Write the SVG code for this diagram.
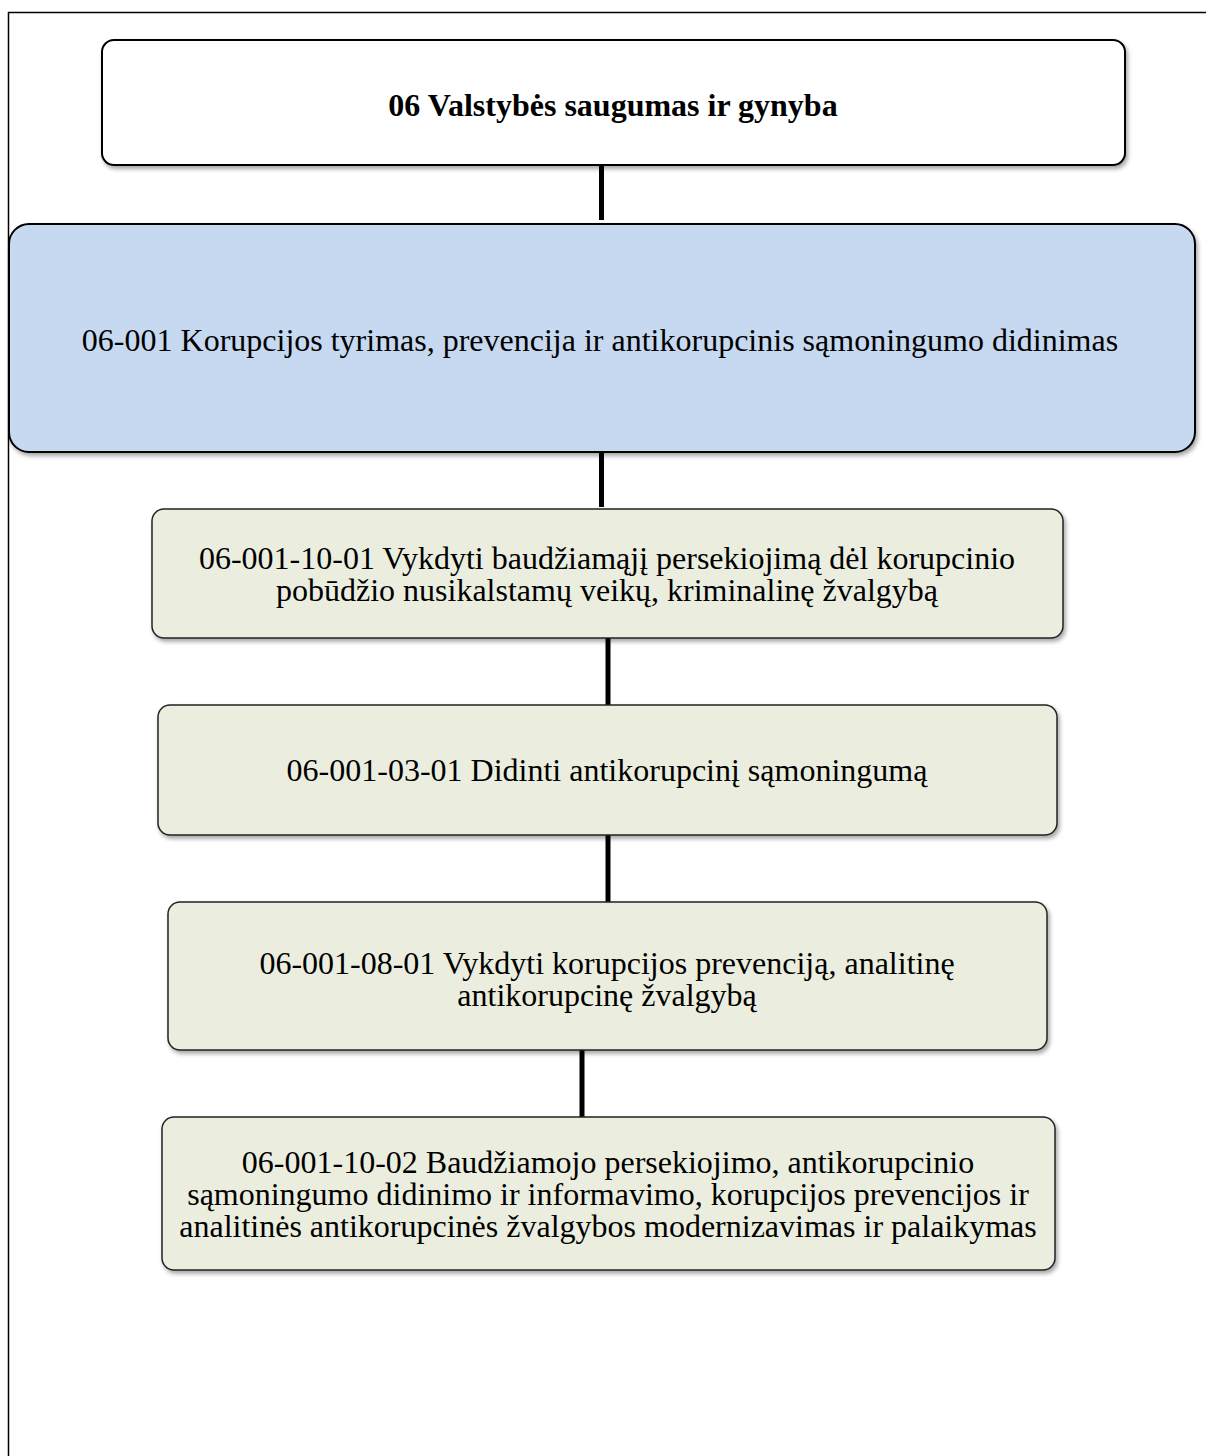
<svg xmlns="http://www.w3.org/2000/svg" width="1206" height="1456" viewBox="0 0 1206 1456">
<style>
text{font-family:"Liberation Serif","Times New Roman",serif;font-size:32px;fill:#000;text-anchor:middle}
.b{font-weight:bold}
.n{stroke:#000;stroke-width:2}
.w{fill:#fff}
.bl{fill:#C6D9F0}
.g{fill:#EBEEDF;stroke:#222;stroke-width:1.5}
.c{stroke:#000;stroke-width:5}
</style>
<defs>
<filter id="sh" x="-5%" y="-10%" width="110%" height="130%">
<feDropShadow dx="2" dy="3" stdDeviation="2" flood-color="#000" flood-opacity="0.35"/>
</filter>
</defs>
<rect x="0" y="0" width="1206" height="1456" fill="#fff"/>
<path d="M8.5 1456 V12.5 H1206" fill="none" stroke="#000" stroke-width="1.5"/>
<g id="connectors">
<line class="c" x1="601.5" y1="165" x2="601.5" y2="220"/>
<line class="c" x1="601.5" y1="453" x2="601.5" y2="507"/>
<line class="c" x1="608" y1="638" x2="608" y2="705"/>
<line class="c" x1="608" y1="835" x2="608" y2="902"/>
<line class="c" x1="582" y1="1050" x2="582" y2="1117"/>
</g>
<g id="n1">
<rect class="n w" x="102" y="40" width="1023" height="125" rx="12" filter="url(#sh)"/>
<text class="b" x="613" y="116">06 Valstybės saugumas ir gynyba</text>
</g>
<g id="n2">
<rect class="n bl" x="9" y="224" width="1186" height="228" rx="20" filter="url(#sh)"/>
<text x="600" y="351">06-001 Korupcijos tyrimas, prevencija ir antikorupcinis sąmoningumo didinimas</text>
</g>
<g id="n3">
<rect class="g" x="152" y="509" width="911" height="129" rx="12" filter="url(#sh)"/>
<text x="607" y="569">06-001-10-01 Vykdyti baudžiamąjį persekiojimą dėl korupcinio</text>
<text x="607" y="601">pobūdžio nusikalstamų veikų, kriminalinę žvalgybą</text>
</g>
<g id="n4">
<rect class="g" x="158" y="705" width="899" height="130" rx="12" filter="url(#sh)"/>
<text x="607" y="781">06-001-03-01 Didinti antikorupcinį sąmoningumą</text>
</g>
<g id="n5">
<rect class="g" x="168" y="902" width="879" height="148" rx="12" filter="url(#sh)"/>
<text x="607" y="974">06-001-08-01 Vykdyti korupcijos prevenciją, analitinę</text>
<text x="607" y="1006">antikorupcinę žvalgybą</text>
</g>
<g id="n6">
<rect class="g" x="162" y="1117" width="893" height="153" rx="12" filter="url(#sh)"/>
<text x="608" y="1173">06-001-10-02 Baudžiamojo persekiojimo, antikorupcinio</text>
<text x="608" y="1205">sąmoningumo didinimo ir informavimo, korupcijos prevencijos ir</text>
<text x="608" y="1237">analitinės antikorupcinės žvalgybos modernizavimas ir palaikymas</text>
</g>
</svg>
